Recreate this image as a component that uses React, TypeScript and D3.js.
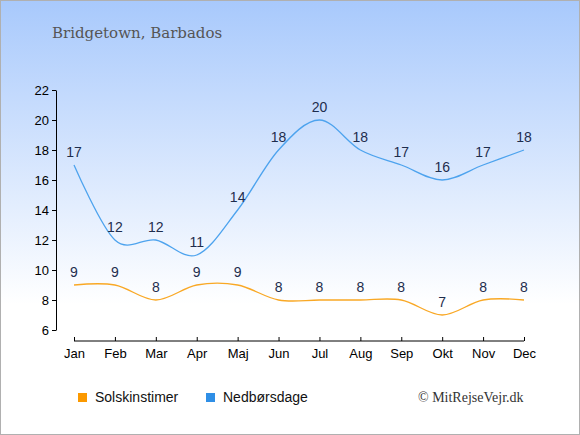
import React, { useEffect, useRef } from "react";
import * as d3 from "d3";

const months = ["Jan", "Feb", "Mar", "Apr", "Maj", "Jun", "Jul", "Aug", "Sep", "Okt", "Nov", "Dec"];
const sunHours = [9, 9, 8, 9, 9, 8, 8, 8, 8, 7, 8, 8];
const rainDays = [17, 12, 12, 11, 14, 18, 20, 18, 17, 16, 17, 18];
const yTicks = [6, 8, 10, 12, 14, 16, 18, 20, 22];

const App: React.FC = () => {
  const ref = useRef<SVGSVGElement>(null);

  useEffect(() => {
    const svg = d3.select(ref.current);
    svg.selectAll("*").remove();
    const width = 580;
    const height = 435;

    // background gradient
    const defs = svg.append("defs");
    const grad = defs
      .append("linearGradient")
      .attr("id", "bg")
      .attr("x1", 0)
      .attr("y1", 0)
      .attr("x2", 0)
      .attr("y2", 1);
    grad.append("stop").attr("offset", "0%").attr("stop-color", "#a8c9fc");
    grad.append("stop").attr("offset", "70%").attr("stop-color", "#ffffff");
    grad.append("stop").attr("offset", "100%").attr("stop-color", "#ffffff");

    svg
      .append("rect")
      .attr("x", 0.5)
      .attr("y", 0.5)
      .attr("width", width - 1)
      .attr("height", height - 1)
      .attr("fill", "url(#bg)")
      .attr("stroke", "#b0b0b0");

    svg
      .append("text")
      .attr("x", 52)
      .attr("y", 38)
      .style("font-family", "'DejaVu Serif', 'Liberation Serif', serif")
      .style("font-size", "15px")
      .attr("fill", "#555")
      .text("Bridgetown, Barbados");

    const x = d3
      .scalePoint<string>()
      .domain(months)
      .range([74, 524]);

    const y = d3.scaleLinear().domain([6, 22]).range([330, 90]);

    // y axis
    const yAxis = svg
      .append("g")
      .attr("transform", "translate(56,0)")
      .call(d3.axisLeft(y).tickValues(yTicks).tickSize(4).tickSizeOuter(0));
    yAxis.select(".domain").attr("stroke", "#000");
    yAxis
      .selectAll("text")
      .style("font-family", "'Liberation Sans', Arial, sans-serif")
      .style("font-size", "13px")
      .attr("fill", "#000");

    // x axis
    const xAxis = svg
      .append("g")
      .attr("transform", "translate(0,341)")
      .call(d3.axisBottom(x).tickSize(-4).tickSizeOuter(0).tickPadding(8));
    xAxis.select(".domain").attr("d", `M${x("Jan")},0H${x("Dec")}`).attr("stroke", "#000");
    xAxis.selectAll(".tick line").attr("y2", -4);
    xAxis.selectAll(".tick line").attr("y1", 0);
    xAxis
      .selectAll("text")
      .style("font-family", "'Liberation Sans', Arial, sans-serif")
      .style("font-size", "13px")
      .attr("fill", "#000");

    const line = d3
      .line<number>()
      .x((_, i) => x(months[i]) as number)
      .y((d) => y(d))
      .curve(d3.curveCardinal);

    const series = [
      { values: sunHours, color: "#f9a825" },
      { values: rainDays, color: "#4da3ee" },
    ];

    series.forEach((s) => {
      svg
        .append("path")
        .attr("d", line(s.values) as string)
        .attr("fill", "none")
        .attr("stroke", s.color)
        .attr("stroke-width", 1.3);

      svg
        .append("g")
        .selectAll("text")
        .data(s.values)
        .enter()
        .append("text")
        .attr("x", (_, i) => x(months[i]) as number)
        .attr("y", (d) => y(d) - 8)
        .attr("text-anchor", "middle")
        .style("font-family", "'Liberation Sans', Arial, sans-serif")
        .style("font-size", "14px")
        .attr("fill", "#1e2d4d")
        .text((d) => d);
    });

    // legend
    const legend = [
      { label: "Solskinstimer", color: "#fb9900", x: 78 },
      { label: "Nedbørsdage", color: "#2f8fe6", x: 146 + 0 },
    ];
    legend.forEach((l, i) => {
      const lx = i === 0 ? 78 : 206;
      svg
        .append("rect")
        .attr("x", lx)
        .attr("y", 393)
        .attr("width", 9)
        .attr("height", 9)
        .attr("fill", l.color);
      svg
        .append("text")
        .attr("x", lx + 17)
        .attr("y", 402)
        .style("font-family", "'Liberation Sans', Arial, sans-serif")
        .style("font-size", "14px")
        .attr("fill", "#111")
        .text(l.label);
    });

    svg
      .append("text")
      .attr("x", 418)
      .attr("y", 402)
      .style("font-family", "'Liberation Serif', 'DejaVu Serif', serif")
      .style("font-size", "14px")
      .attr("fill", "#333")
      .text("© MitRejseVejr.dk");
  }, []);

  return (
    <svg
      ref={ref}
      width={580}
      height={435}
      style={{ position: "absolute", left: 0, top: 0 }}
    />
  );
};

export default App;
